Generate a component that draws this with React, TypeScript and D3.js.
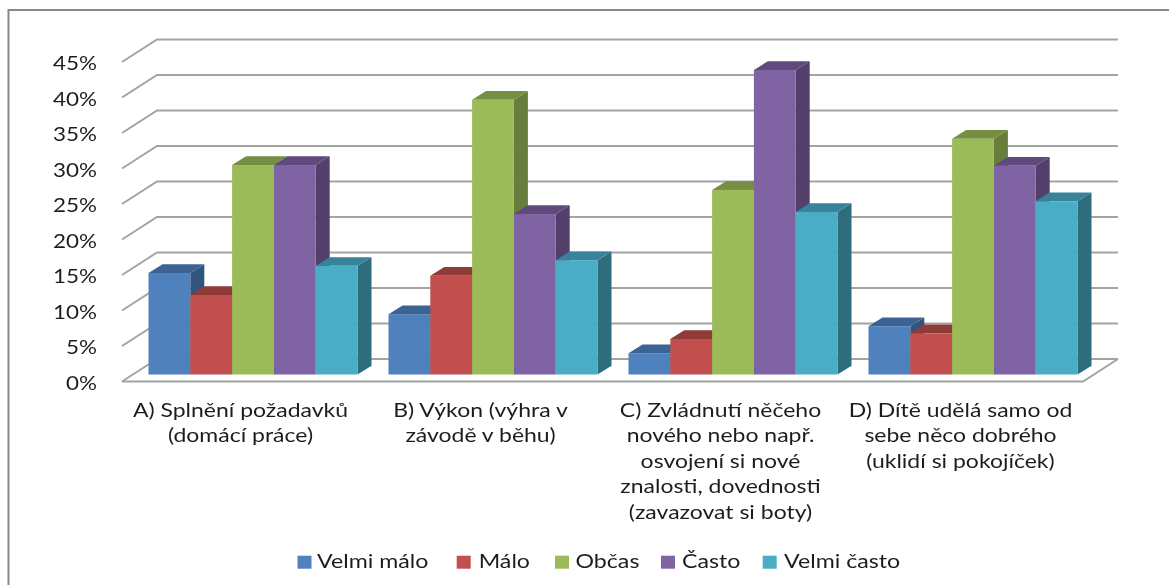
import React from "react";
import * as d3 from "d3";

const categories = ["A", "B", "C", "D"];
const categoryLines = [
  ["A) Splnění požadavků", "(domácí práce)"],
  ["B) Výkon (výhra v", "závodě v běhu)"],
  ["C) Zvládnutí něčeho", "nového nebo např.", "osvojení si nové", "znalosti, dovednosti", "(zavazovat si boty)"],
  ["D) Dítě udělá samo od", "sebe něco dobrého", "(uklidí si pokojíček)"],
];
const seriesNames = ["Velmi málo", "Málo", "Občas", "Často", "Velmi často"];
const velmiMalo = [14.3, 8.5, 3.0, 6.8];
const malo = [11.2, 13.9, 5.0, 5.8];
const obcas = [29.5, 38.7, 26.0, 33.2];
const casto = [29.5, 22.6, 42.9, 29.4];
const velmiCasto = [15.3, 16.1, 22.9, 24.4];
const seriesValues = [velmiMalo, malo, obcas, casto, velmiCasto];
const frontColors = ["#4F81BD", "#C0504D", "#9BBB59", "#8064A2", "#4BACC6"];
const topColors = ["#3C6494", "#8F3A38", "#758E43", "#604A7B", "#378399"];
const sideColors = ["#31547E", "#7E3230", "#677C3B", "#52406A", "#2E6C7E"];
const yTicks = d3.range(0, 50, 5);
const legendX = [297.5, 456.7, 555, 661, 762.7];
const legendTextX = [317, 478.7, 575.5, 682, 784];

const font = "Lato, sans-serif";
const textColor = "#1f1f1f";
const gridColor = "#a3a3a3";

const W = 1169, H = 585;
const wallY = d3.scaleLinear().domain([0, 45]).range([359, 39.5]);
const backLeft = 157, backRight = 1118, wallDX = 35, wallDY = 22.5;
const barY = d3.scaleLinear().domain([0, 45]).range([374.5, 55]);
const band = d3.scaleBand().domain(categories).range([128.5, 1088.5]).padding(0);
const inner = d3.scaleBand().domain(seriesNames).range([20, 229]);
const depthX = 14, depthY = 8.7;

const poly = (pts: number[][]) => pts.map((p) => p.join(",")).join(" ");

function Label({ x, y, anchor, size, stretch, children }: any) {
  return (
    <text
      transform={`translate(${x},${y}) scale(${stretch},1)`}
      textAnchor={anchor}
      fontFamily={font}
      fontSize={size}
      fill={textColor}
    >
      {children}
    </text>
  );
}

export default function App() {
  return (
    <svg width={W} height={H} style={{ position: "absolute", left: 0, top: 0, background: "#fff" }}>
      <defs>
        <filter id="soft" x="-5%" y="-5%" width="110%" height="110%">
          <feGaussianBlur stdDeviation="0.45" />
        </filter>
      </defs>
      <g filter="url(#soft)">
        <path d={`M8.5 ${H}V10H${W}`} fill="none" stroke="#888" strokeWidth={2} />
        {yTicks.map((t) => (
          <g key={t}>
            <path
              d={d3.line()([
                [backLeft - wallDX, wallY(t) + wallDY],
                [backLeft, wallY(t)],
                [backRight, wallY(t)],
              ]) as string}
              fill="none"
              stroke={gridColor}
              strokeWidth={2}
            />
            <Label x={97} y={wallY(t) + wallDY + 8} anchor="end" size={19.5} stretch={1.15}>
              {t}%
            </Label>
          </g>
        ))}
        <path
          d={d3.line()([
            [backLeft - wallDX, wallY(0) + wallDY],
            [backRight - wallDX, wallY(0) + wallDY],
            [backRight, wallY(0)],
          ]) as string}
          fill="none"
          stroke={gridColor}
          strokeWidth={2}
        />
        {categories.map((c, ci) => (
          <g key={c}>
            {seriesNames.map((s, si) => {
              const x0 = (band(c) as number) + (inner(s) as number);
              const x1 = x0 + inner.bandwidth();
              const yt = barY(seriesValues[si][ci]);
              const yb = barY(0);
              return (
                <g key={s}>
                  <polygon
                    points={poly([[x1, yt], [x1 + depthX, yt - depthY], [x1 + depthX, yb - depthY], [x1, yb]])}
                    fill={sideColors[si]}
                  />
                  <polygon
                    points={poly([[x0, yt], [x0 + depthX, yt - depthY], [x1 + depthX, yt - depthY], [x1, yt]])}
                    fill={topColors[si]}
                  />
                  <rect x={x0} y={yt} width={x1 - x0} height={yb - yt} fill={frontColors[si]} />
                </g>
              );
            })}
            {categoryLines[ci].map((line, li) => (
              <Label
                key={li}
                x={(band(c) as number) + band.bandwidth() / 2 - 8}
                y={417 + li * 25.4}
                anchor="middle"
                size={19}
                stretch={1.21}
              >
                {line}
              </Label>
            ))}
          </g>
        ))}
        {seriesNames.map((s, si) => (
          <g key={s}>
            <rect x={legendX[si]} y={555.7} width={14} height={13} fill={frontColors[si]} />
            <Label x={legendTextX[si]} y={568.3} anchor="start" size={19} stretch={1.22}>
              {s}
            </Label>
          </g>
        ))}
      </g>
    </svg>
  );
}
